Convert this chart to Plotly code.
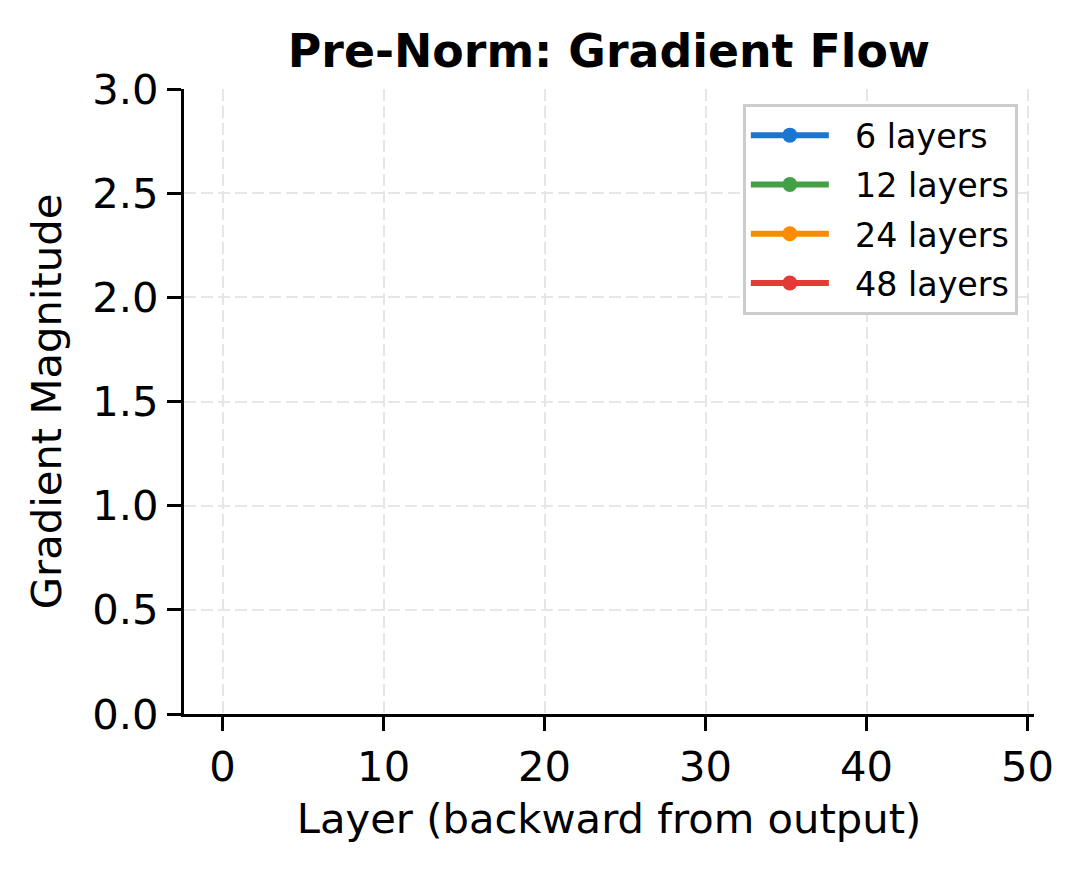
import plotly.graph_objects as go

# gradient magnitude per layer (backward from output); every value sits above
# the 0-3 window, so nothing is drawn inside the axes, just like the original
LAYERS_6 = [0, 1, 2, 3, 4, 5, 6]
GRAD_6 = [4.2, 4.5, 4.9, 5.2, 5.6, 6.0, 6.4]

LAYERS_12 = [0, 1, 2, 3, 4, 5, 6, 7, 8, 9, 10, 11, 12]
GRAD_12 = [4.2, 4.4, 4.7, 5.0, 5.3, 5.6, 5.9, 6.3, 6.6, 7.0, 7.4, 7.8, 8.2]

LAYERS_24 = [0, 1, 2, 3, 4, 5, 6, 7, 8, 9, 10, 11, 12,
             13, 14, 15, 16, 17, 18, 19, 20, 21, 22, 23, 24]
GRAD_24 = [4.2, 4.3, 4.5, 4.7, 4.9, 5.1, 5.3, 5.5, 5.7, 5.9, 6.2, 6.4, 6.6,
           6.9, 7.1, 7.4, 7.6, 7.9, 8.2, 8.5, 8.8, 9.1, 9.4, 9.7, 10.0]

LAYERS_48 = [0, 1, 2, 3, 4, 5, 6, 7, 8, 9, 10, 11, 12, 13, 14, 15, 16,
             17, 18, 19, 20, 21, 22, 23, 24, 25, 26, 27, 28, 29, 30, 31, 32,
             33, 34, 35, 36, 37, 38, 39, 40, 41, 42, 43, 44, 45, 46, 47, 48]
GRAD_48 = [4.2, 4.3, 4.4, 4.5, 4.6, 4.7, 4.8, 4.9, 5.0, 5.1, 5.2, 5.3, 5.5,
           5.6, 5.7, 5.8, 6.0, 6.1, 6.2, 6.4, 6.5, 6.6, 6.8, 6.9, 7.1,
           7.2, 7.4, 7.5, 7.7, 7.8, 8.0, 8.2, 8.3, 8.5, 8.7, 8.8, 9.0,
           9.2, 9.4, 9.6, 9.8, 10.0, 10.2, 10.4, 10.6, 10.8, 11.0, 11.2, 11.4]

SERIES = [
    ("6 layers", LAYERS_6, GRAD_6, "#1976D2"),
    ("12 layers", LAYERS_12, GRAD_12, "#43A047"),
    ("24 layers", LAYERS_24, GRAD_24, "#FB8C00"),
    ("48 layers", LAYERS_48, GRAD_48, "#E53935"),
]

X_TICKS = [0, 10, 20, 30, 40, 50]
Y_TICKS = [0.0, 0.5, 1.0, 1.5, 2.0, 2.5, 3.0]

FONT = "DejaVu Sans"
LABEL_SIZE = 41.7   # 10pt at 300 dpi
TITLE_SIZE = 45.8
LEGEND_SIZE = 33.3

fig = go.Figure()
for name, xs, ys, color in SERIES:
    fig.add_trace(go.Scatter(
        x=xs, y=ys, name="\u00a0\u00a0" + name, legendgroup=name,
        mode="lines+markers",
        line=dict(color=color, width=6),
        marker=dict(color=color, size=15),
    ))

axis_common = dict(
    showline=True, linecolor="black", linewidth=3,
    ticks="outside", ticklen=14, tickwidth=3, tickcolor="black",
    showgrid=True, gridcolor="#e6e6e6", gridwidth=2, griddash="12px,5px",
    zeroline=False, mirror=False,
    tickfont=dict(family=FONT, size=LABEL_SIZE, color="black"),
)

fig.update_xaxes(
    range=[-2.4, 50.4], tickvals=X_TICKS,
    title=dict(text="Layer (backward from output)", standoff=14,
               font=dict(family=FONT, size=LABEL_SIZE, color="black")),
    **axis_common,
)
fig.update_yaxes(
    range=[0, 3], tickvals=Y_TICKS, tickformat=".1f",
    title=dict(text="Gradient Magnitude", standoff=18,
               font=dict(family=FONT, size=LABEL_SIZE, color="black")),
    **axis_common,
)

fig.update_layout(
    width=1084, height=874,
    margin=dict(l=176, r=58, t=81, b=168),
    paper_bgcolor="white", plot_bgcolor="white",
    font=dict(family=FONT, color="black"),
    title=dict(text="<b>Pre-Norm: Gradient Flow</b>", xref="paper", x=0.5,
               xanchor="center", yref="container", y=0.951, yanchor="middle",
               font=dict(family=FONT, size=TITLE_SIZE, color="black")),
    legend=dict(
        x=0.981, y=0.976, xanchor="right", yanchor="top",
        bgcolor="white", bordercolor="#cccccc", borderwidth=3,
        font=dict(family=FONT, size=LEGEND_SIZE, color="black"),
        itemwidth=78, tracegroupgap=3,
    ),
    showlegend=True,
)

fig.write_html("out.html")
